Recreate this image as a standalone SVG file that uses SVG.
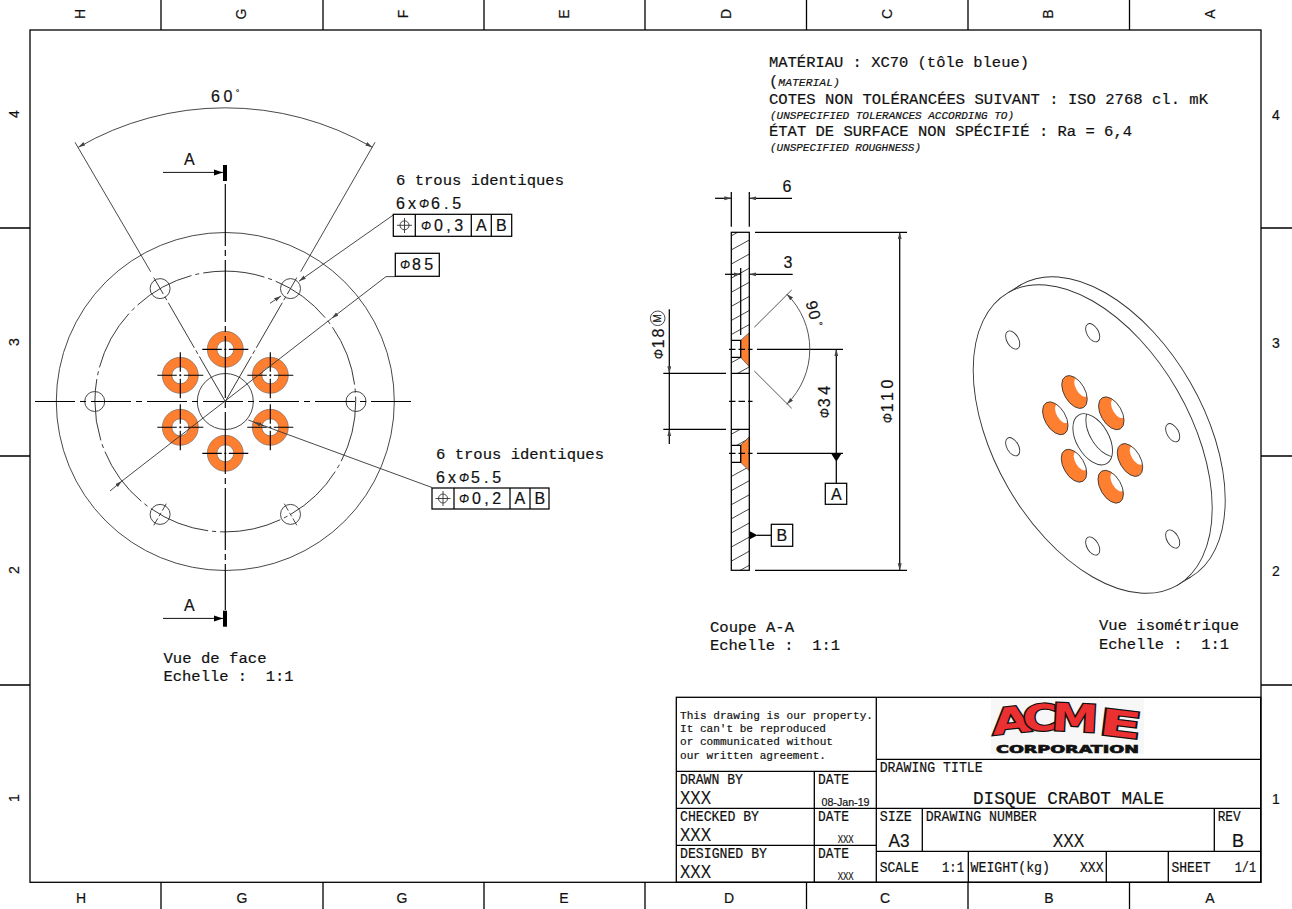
<svg xmlns="http://www.w3.org/2000/svg" xmlns:xlink="http://www.w3.org/1999/xlink" width="1292" height="909" viewBox="0 0 1292 909">
<style>
text{font-family:"Liberation Mono","DejaVu Sans Mono",monospace;fill:#111;stroke:#111;stroke-width:.2px;white-space:pre}
.m{font-size:15.5px}
.i{font-size:11px;font-style:italic}
.s{font-family:"Liberation Sans",Arial,sans-serif;font-size:16px}
.b{font-size:14.5px}
.n{font-size:11px}
.x{font-family:"Liberation Sans",Arial,sans-serif;font-size:18px}
.d{font-family:"Liberation Sans",Arial,sans-serif;font-size:10px}
.z{font-family:"Liberation Sans",Arial,sans-serif;font-size:14px}
.ph{font-family:"Liberation Sans",Arial,sans-serif;font-style:italic;font-size:12px}
.logo{font-family:"DejaVu Sans",sans-serif;font-weight:bold;font-size:36px;fill:#ea3030;stroke:#111;stroke-width:2.4px;paint-order:stroke}
.corp{font-family:"DejaVu Sans",sans-serif;font-weight:bold;font-size:11px;fill:#111;stroke:#111;stroke-width:.7px}
line,path,circle,ellipse,rect,polyline{fill:none;stroke:#111;stroke-width:1}
.k{stroke:#000;stroke-width:1.25}
.th{stroke:#333;stroke-width:.9}
.g{stroke:#444;stroke-width:.9}
.or{fill:#ff7f30;stroke:#555;stroke-width:.8}
.wh{fill:#fff;stroke:none}
.bk{fill:#000;stroke:none}
.ch{stroke:#000;stroke-width:1.15;stroke-dasharray:40 5 6 5}
.chx{stroke:#000;stroke-width:1.15;stroke-dasharray:19.5 2.5 2 2.5 19.5}
.chr{stroke:#333;stroke-width:.9;stroke-dasharray:8 2.5 4 2.5 8}
.pcd{stroke:#222;stroke-width:.9;stroke-dasharray:62 4 4 4}
.aa{marker-start:url(#a);marker-end:url(#a)}
.fr{stroke:#000;stroke-width:1.3}
</style>
<defs>
<marker id="a" markerUnits="userSpaceOnUse" markerWidth="8" markerHeight="5" refX="7" refY="2" orient="auto-start-reverse"><path d="M0,0 L7,2 L0,4 z" style="fill:#444;stroke:none"/></marker>
<marker id="b" markerUnits="userSpaceOnUse" markerWidth="10" markerHeight="7" refX="9" refY="3" orient="auto"><path d="M0,0 L9,3 L0,6 z" style="fill:#000;stroke:none"/></marker>
<g id="ring"><circle r="13.2" style="fill:none;stroke:#ff7f30;stroke-width:9.6"/><circle r="18" style="stroke:#666;stroke-width:.6"/><circle r="8.5" style="stroke:#666;stroke-width:.6"/></g>
<g id="crossAll"><line class="chx" x1="-23" y1="0" x2="23" y2="0"/><line class="chx" x1="0" y1="-23" x2="0" y2="23"/></g>
<clipPath id="sec"><path d="M731.3,232.3H749.3V332.7L740.7,340.3H731.3zM731.3,357.3H740.7L749.3,366.7V373.3H731.3zM731.3,429.3H749.3V436.7L740.7,445.3H731.3zM731.3,462.3H740.7L749.3,470.7V570.3H731.3z"/></clipPath>
<clipPath id="ic"><ellipse cx="0" cy="0" rx="18" ry="10.4" transform="rotate(60)"/></clipPath>
<clipPath id="bh"><ellipse cx="1092.7" cy="439.3" rx="28" ry="16.2" transform="rotate(60 1092.7 439.3)"/></clipPath>
<g id="iring"><ellipse class="or" rx="18" ry="10.4" transform="rotate(60)" style="stroke:none"/><g clip-path="url(#ic)"><ellipse class="wh" cx="6.7" cy="-4.7" rx="10.5" ry="5.3" transform="rotate(60 6.7 -4.7)"/></g><ellipse rx="18" ry="10.4" transform="rotate(60)" style="stroke:#333;stroke-width:.8"/></g>
<ellipse id="ih" rx="10" ry="5.8" transform="rotate(60)" class="th"/>
</defs>
<rect width="1292" height="909" style="fill:#fff;stroke:none"/>

<g id="frame">
<rect class="fr" x="30" y="30" width="1231" height="852.3"/>
<path class="fr" d="M161,0V30M323,0V30M484,0V30M645,0V30M806.5,0V30M968,0V30M1129.5,0V30M161,882V909M323,882V909M484,882V909M645,882V909M806.5,882V909M968,882V909M1129.5,882V909M0,228H30M0,456H30M0,685H30M1261,228H1292M1261,456H1292M1261,685H1292"/>
<g>
<text class="z" transform="rotate(-90 81 14)" x="81" y="14" text-anchor="middle" dominant-baseline="middle">H</text>
<text class="z" transform="rotate(-90 242 14)" x="242" y="14" text-anchor="middle" dominant-baseline="middle">G</text>
<text class="z" transform="rotate(-90 404 14)" x="404" y="14" text-anchor="middle" dominant-baseline="middle">F</text>
<text class="z" transform="rotate(-90 565 14)" x="565" y="14" text-anchor="middle" dominant-baseline="middle">E</text>
<text class="z" transform="rotate(-90 727 14)" x="727" y="14" text-anchor="middle" dominant-baseline="middle">D</text>
<text class="z" transform="rotate(-90 888 14)" x="888" y="14" text-anchor="middle" dominant-baseline="middle">C</text>
<text class="z" transform="rotate(-90 1049 14)" x="1049" y="14" text-anchor="middle" dominant-baseline="middle">B</text>
<text class="z" transform="rotate(-90 1211 14)" x="1211" y="14" text-anchor="middle" dominant-baseline="middle">A</text>
<text class="z" x="81" y="903" text-anchor="middle">H</text>
<text class="z" x="242" y="903" text-anchor="middle">G</text>
<text class="z" x="402" y="903" text-anchor="middle">G</text>
<text class="z" x="564" y="903" text-anchor="middle">E</text>
<text class="z" x="729" y="903" text-anchor="middle">D</text>
<text class="z" x="885" y="903" text-anchor="middle">C</text>
<text class="z" x="1049" y="903" text-anchor="middle">B</text>
<text class="z" x="1210" y="903" text-anchor="middle">A</text>
<text class="z" transform="rotate(-90 15 114)" x="15" y="114" text-anchor="middle" dominant-baseline="middle">4</text>
<text class="z" transform="rotate(-90 15 342)" x="15" y="342" text-anchor="middle" dominant-baseline="middle">3</text>
<text class="z" transform="rotate(-90 15 570)" x="15" y="570" text-anchor="middle" dominant-baseline="middle">2</text>
<text class="z" transform="rotate(-90 15 798)" x="15" y="798" text-anchor="middle" dominant-baseline="middle">1</text>
<text class="z" x="1276" y="120" text-anchor="middle">4</text>
<text class="z" x="1276" y="348" text-anchor="middle">3</text>
<text class="z" x="1276" y="576" text-anchor="middle">2</text>
<text class="z" x="1276" y="804" text-anchor="middle">1</text>
</g>
</g>

<g id="notes">
<text class="m" x="769" y="67" textLength="260" lengthAdjust="spacingAndGlyphs">MATÉRIAU : XC70 (tôle bleue)</text>
<text x="769" y="86"><tspan class="m">(</tspan><tspan class="i" style="font-size:11.4px">MATERIAL)</tspan></text>
<text class="m" x="769" y="104" textLength="439" lengthAdjust="spacingAndGlyphs">COTES NON TOLÉRANCÉES SUIVANT : ISO 2768 cl. mK</text>
<text class="i" x="770" y="119" textLength="244" lengthAdjust="spacingAndGlyphs">(UNSPECIFIED TOLERANCES ACCORDING TO)</text>
<text class="m" x="769" y="136" textLength="363" lengthAdjust="spacingAndGlyphs">ÉTAT DE SURFACE NON SPÉCIFIÉ : Ra = 6,4</text>
<text class="i" x="770" y="151" textLength="151" lengthAdjust="spacingAndGlyphs">(UNSPECIFIED ROUGHNESS)</text>
</g>

<g id="front-view">
<circle class="th" cx="225.3" cy="401.5" r="169"/>
<circle class="pcd" cx="225.3" cy="401.5" r="130.4"/>
<circle class="th" cx="225.3" cy="401.5" r="28"/>
<circle class="th" cx="94.7" cy="401.5" r="10"/>
<circle class="th" cx="356" cy="401.5" r="10"/>
<circle class="th" cx="160.1" cy="288.6" r="10"/>
<circle class="th" cx="290.5" cy="288.6" r="10"/>
<circle class="th" cx="160.1" cy="514.4" r="10"/>
<circle class="th" cx="290.5" cy="514.4" r="10"/>
<use href="#ring" x="225.3" y="349.3"/>
<use href="#ring" x="270.3" y="375.3"/>
<use href="#ring" x="180.3" y="375.3"/>
<use href="#ring" x="180.3" y="427.3"/>
<use href="#ring" x="270.3" y="427.3"/>
<use href="#ring" x="225.3" y="453.3"/>
<use href="#crossAll" x="270.3" y="375.3"/>
<use href="#crossAll" x="180.3" y="375.3"/>
<use href="#crossAll" x="180.3" y="427.3"/>
<use href="#crossAll" x="270.3" y="427.3"/>
<line class="chx" x1="202.3" y1="349.3" x2="248.3" y2="349.3"/>
<line class="chx" x1="202.3" y1="453.3" x2="248.3" y2="453.3"/>
<line class="ch" x1="35" y1="401.5" x2="416" y2="401.5"/>
<line class="ch" x1="225.3" y1="184" x2="225.3" y2="610" style="stroke-dasharray:62 4 6 4"/>
<line class="pcd" x1="225.3" y1="401.5" x2="153.8" y2="277.6" style="stroke-dasharray:52 3 4 3"/>
<line class="pcd" x1="225.3" y1="401.5" x2="296.8" y2="277.6" style="stroke-dasharray:52 3 4 3"/>
<line class="chr" x1="166.3" y1="503.7" x2="153.8" y2="525.3"/>
<line class="chr" x1="284.3" y1="503.7" x2="296.8" y2="525.3"/>
<text class="s" x="184" y="165">A</text>
<text class="s" x="184" y="611">A</text>
<rect class="bk" x="223" y="165" width="4" height="16"/>
<rect class="bk" x="223" y="610.7" width="4" height="16"/>
<text class="m" x="163.5" y="663" textLength="103" lengthAdjust="spacingAndGlyphs">Vue de face</text>
<text class="m" x="163.5" y="681" textLength="130" lengthAdjust="spacingAndGlyphs">Echelle :  1:1</text>
</g>

<g id="section-view">
<path class="or" d="M749.3,332.7L740.7,340.3V357.3L749.3,366.7z"/>
<path class="or" d="M749.3,436.7L740.7,445.3V462.3L749.3,470.7z"/>
<g clip-path="url(#sec)">
<path class="th" d="M731,236L750,225.5M731,250.1L750,239.6M731,264.2L750,253.7M731,278.3L750,267.8M731,292.4L750,281.9M731,306.5L750,296M731,320.6L750,310.1M731,334.7L750,324.2M731,362.9L750,352.4M731,377L750,366.5M731,434.4L750,423.9M731,448.5L750,438M731,476.7L750,466.2M731,490.8L750,480.3M731,504.9L750,494.4M731,519L750,508.5M731,533.1L750,522.6M731,547.2L750,536.7M731,561.3L750,550.8M731,575.4L750,564.9"/>
</g>
<rect class="k" x="731.3" y="232.3" width="18" height="338"/>
<path class="k" d="M731.3,373.3H749.3M731.3,429.3H749.3M731.3,340.3H740.7V357.3H731.3M731.3,445.3H740.7V462.3H731.3"/>
<path class="k" d="M729,401.3H735.5M738.5,401.3H745M748,401.3H752.5M729,349.3H735.5M738.5,349.3H745M748,349.3H752.5M729,453.3H735.5M738.5,453.3H745M748,453.3H752.5"/>
<text class="m" x="710" y="632" textLength="84" lengthAdjust="spacingAndGlyphs">Coupe A-A</text>
<text class="m" x="710" y="650" textLength="130" lengthAdjust="spacingAndGlyphs">Echelle :  1:1</text>
</g>

<g id="iso-view">
<ellipse class="th" cx="1105.7" cy="431" rx="169" ry="97.6" transform="rotate(60 1105.7 431)"/>
<ellipse cx="1092.7" cy="439" rx="169" ry="97.6" transform="rotate(60 1092.7 439)" style="fill:#fff;stroke:#333;stroke-width:.9"/>
<path class="th" d="M1008.2,292.6L1021.2,284.6M1177.2,585.4L1190.2,577.4"/>
<use href="#ih" x="1012.7" y="340"/>
<use href="#ih" x="1092.7" y="332.7"/>
<use href="#ih" x="1172.7" y="432.7"/>
<use href="#ih" x="1172.7" y="539"/>
<use href="#ih" x="1092.7" y="546"/>
<use href="#ih" x="1012.7" y="446.7"/>
<ellipse class="th" cx="1092.7" cy="439.3" rx="28" ry="16.2" transform="rotate(60 1092.7 439.3)"/>
<g clip-path="url(#bh)"><ellipse class="th" cx="1105.7" cy="431.3" rx="28" ry="16.2" transform="rotate(60 1105.7 431.3)"/></g>
<use href="#iring" x="1074.5" y="392"/>
<use href="#iring" x="1111.3" y="413.3"/>
<use href="#iring" x="1055.3" y="418.3"/>
<use href="#iring" x="1130" y="460"/>
<use href="#iring" x="1074" y="465.7"/>
<use href="#iring" x="1110.7" y="486.7"/>
<text class="m" x="1099" y="630" textLength="140" lengthAdjust="spacingAndGlyphs">Vue isométrique</text>
<text class="m" x="1099" y="649" textLength="130" lengthAdjust="spacingAndGlyphs">Echelle :  1:1</text>
</g>

<g id="connectors">
<path class="th" d="M75,142.3L150.7,271.7M375,142.3L300.7,271.7"/>
<path class="th aa" d="M78.3,147.3A293.5,293.5 0 0 1 372.3,147.3"/>
<line x1="163" y1="172.4" x2="223" y2="172.4" style="marker-end:url(#b)"/>
<line x1="163" y1="618.4" x2="223" y2="618.4" style="marker-end:url(#b)"/>
<path class="th" d="M393.3,215L299,281.2" style="marker-end:url(#a)"/>
<path class="th" d="M270,303.3L281,296" style="marker-end:url(#a)"/>
<path class="th" d="M395.3,276.6H386L331.7,318.3"  style="marker-end:url(#a)"/>
<path class="th" d="M331.7,318.3L122,481"/>
<path class="th" d="M110,491L122,481" style="marker-end:url(#a)"/>
<path class="th" d="M432,487.5L248.3,420"/>
<path class="th" d="M264,426L254,422.2" style="marker-end:url(#a)"/>
<path class="k" d="M731.3,192V226.7M749.3,192V226.7"/>
<path class="k" d="M715,198.3H731.3" style="marker-end:url(#a)"/>
<path class="k" d="M749.3,198.3H792" style="marker-start:url(#a)"/>
<path class="k" d="M725,274.3H740.7" style="marker-end:url(#a)"/>
<path class="k" d="M749.3,274.3H792.7" style="marker-start:url(#a)"/>
<line class="k" x1="740.7" y1="268" x2="740.7" y2="335"/>
<path class="k" d="M755,232.3H907M755,570.3H907"/>
<line class="k aa" x1="899.7" y1="232.3" x2="899.7" y2="570.3"/>
<path class="k" d="M757,349.3H843M757,453.3H843"/>
<path class="k" d="M836.3,453.3V349.3" style="marker-end:url(#a)"/>
<path class="bk" d="M831,453.3H841.7L836.3,461.7z"/>
<line class="k" x1="836.3" y1="461" x2="836.3" y2="483.3"/>
<path class="k" d="M663.3,373.3H726M663.3,429.3H726"/>
<path class="k" d="M669.3,309.3V373.3" style="marker-end:url(#a)"/>
<path class="k" d="M669.3,444V429.3" style="marker-end:url(#a)"/>
<line class="k" x1="669.3" y1="373.3" x2="669.3" y2="429.3"/>
<path class="g" d="M754.3,327.3L791.7,290M754.3,371L791.7,408.3"/>
<path class="g aa" d="M786.7,294A77.4,77.4 0 0 1 786.7,404.3"/>
<path class="bk" d="M749.3,531V539.5L757.5,535.3z"/>
<line class="k" x1="757" y1="535.3" x2="771.3" y2="535.3"/>
</g>

<g id="dim-labels">
<text class="s" x="211" y="102" letter-spacing="3.5">60<tspan class="d" dy="-6" style="font-size:9px">°</tspan></text>
<text class="m" x="396" y="185" textLength="168" lengthAdjust="spacingAndGlyphs">6 trous identiques</text>
<text class="s" x="396" y="209">6</text>
<text class="s" x="408" y="209">x</text>
<text class="ph" x="419" y="208">Φ</text>
<text class="s" x="431" y="209" letter-spacing="4">6.5</text>
<text class="m" x="436" y="459" textLength="168" lengthAdjust="spacingAndGlyphs">6 trous identiques</text>
<text class="s" x="436" y="483">6</text>
<text class="s" x="448" y="483">x</text>
<text class="ph" x="459" y="482">Φ</text>
<text class="s" x="471" y="483" letter-spacing="4">5.5</text>
<text class="s" x="782.5" y="192">6</text>
<text class="s" x="783.5" y="268">3</text>
<g transform="translate(893.3 423.3) rotate(-90)"><text class="ph" x="0" y="-1">Φ</text><text class="s" x="11" y="0" letter-spacing="3.6">110</text></g>
<g transform="translate(830 418.3) rotate(-90)"><text class="ph" x="0" y="-1">Φ</text><text class="s" x="11" y="0" letter-spacing="3.6">34</text></g>
<g transform="translate(664 359.3) rotate(-90)"><text class="ph" x="0" y="-1">Φ</text><text class="s" x="11" y="0" letter-spacing="2">18</text></g>
<circle class="th" cx="657.7" cy="318.3" r="7.3"/>
<text class="d" transform="translate(661.3 318.3) rotate(-90)" x="0" y="0" text-anchor="middle">M</text>
<text class="s" transform="translate(805.5 302.5) rotate(75)" x="0" y="0" letter-spacing="1">90</text>
<text class="d" transform="translate(815 323) rotate(75)" x="0" y="0">°</text>
</g>

<g id="fcf-1">
<rect class="k" x="393.3" y="214.3" width="118.4" height="22"/>
<path class="k" d="M415.3,214.3V236.3M471.3,214.3V236.3M491.3,214.3V236.3"/>
<circle class="th" cx="404.5" cy="225.3" r="4.5"/>
<path class="th" d="M397,225.3H412M404.5,218V233"/>
<text class="ph" x="421" y="230">Φ</text>
<text class="s" x="434" y="231" letter-spacing="3.4">0,3</text>
<text class="s" x="476" y="231">A</text>
<text class="s" x="496" y="231">B</text>
</g>
<g id="fcf-2">
<rect class="k" x="432" y="488" width="117" height="21"/>
<path class="k" d="M454,488V509M510,488V509M530,488V509"/>
<circle class="th" cx="443" cy="498.5" r="4.5"/>
<path class="th" d="M435.5,498.5H450.5M443,491V506"/>
<text class="ph" x="459" y="503">Φ</text>
<text class="s" x="472" y="504" letter-spacing="3.4">0,2</text>
<text class="s" x="514.5" y="504">A</text>
<text class="s" x="534.5" y="504">B</text>
</g>
<g id="dim-85">
<rect class="k" x="395.3" y="253.3" width="44" height="23"/>
<text class="ph" x="400" y="269">Φ</text>
<text class="s" x="412" y="270" letter-spacing="3.4">85</text>
</g>
<g id="datum-a">
<rect class="k" x="825.3" y="483.3" width="21.4" height="21"/>
<text class="s" x="831" y="499.5">A</text>
</g>
<g id="datum-b">
<rect class="k" x="771.3" y="524.3" width="21.4" height="22"/>
<text class="s" x="776.5" y="541">B</text>
</g>

<g id="title-block">
<rect class="fr" x="676.3" y="697.3" width="584.4" height="185"/>
<path class="fr" d="M876.3,697.3V882.3M676.3,771.3H876.3M676.3,808.3H1260.7M676.3,845.3H876.3M814.3,771.3V882.3M876.3,759.3H1260.7M922.3,808.3V851.3M876.3,851.3H1260.7M968.3,851.3V882.3M1214.3,808.3V851.3M1106.3,851.3V882.3M1168.3,851.3V882.3"/>
<g id="logo">
<rect style="fill:#f7f7f7;stroke:none" x="991" y="698.5" width="153" height="55.5"/>
<text class="logo" transform="translate(993 735) rotate(-6) scale(1.4 1)">A</text>
<text class="logo" transform="translate(1023 731) rotate(-2) scale(1.32 1)">C</text>
<text class="logo" transform="translate(1051 730) rotate(3) scale(1.3 1.05)">M</text>
<text class="logo" transform="translate(1098 734) rotate(7) scale(1.72 1)">E</text>
<text class="corp" x="996" y="753" textLength="143" lengthAdjust="spacingAndGlyphs">CORPORATION</text>
</g>
<text class="n" x="680" y="719.3" textLength="193" lengthAdjust="spacingAndGlyphs">This drawing is our property.</text>
<text class="n" x="680" y="732" textLength="146" lengthAdjust="spacingAndGlyphs">It can't be reproduced</text>
<text class="n" x="680" y="745" textLength="153" lengthAdjust="spacingAndGlyphs">or communicated without</text>
<text class="n" x="680" y="759" textLength="146" lengthAdjust="spacingAndGlyphs">our written agreement.</text>
<text class="b" x="680" y="784.3" textLength="63" lengthAdjust="spacingAndGlyphs">DRAWN BY</text>
<text class="x" x="680" y="804.3" textLength="31" lengthAdjust="spacingAndGlyphs">XXX</text>
<text class="b" x="818" y="784.3" textLength="31" lengthAdjust="spacingAndGlyphs">DATE</text>
<text class="d" x="821.5" y="805.7" textLength="48" lengthAdjust="spacingAndGlyphs">08-Jan-19</text>
<text class="b" x="680" y="821.3" textLength="79" lengthAdjust="spacingAndGlyphs">CHECKED BY</text>
<text class="x" x="680" y="841.3" textLength="31" lengthAdjust="spacingAndGlyphs">XXX</text>
<text class="b" x="818" y="821.3" textLength="31" lengthAdjust="spacingAndGlyphs">DATE</text>
<text class="d" x="837.7" y="842.7" textLength="16" lengthAdjust="spacingAndGlyphs">XXX</text>
<text class="b" x="680" y="858.3" textLength="87" lengthAdjust="spacingAndGlyphs">DESIGNED BY</text>
<text class="x" x="680" y="878.3" textLength="31" lengthAdjust="spacingAndGlyphs">XXX</text>
<text class="b" x="818" y="858.3" textLength="31" lengthAdjust="spacingAndGlyphs">DATE</text>
<text class="d" x="837.7" y="879.7" textLength="16" lengthAdjust="spacingAndGlyphs">XXX</text>
<text class="b" x="879.7" y="772" textLength="103" lengthAdjust="spacingAndGlyphs">DRAWING TITLE</text>
<text class="x" x="973" y="804" textLength="191" lengthAdjust="spacingAndGlyphs" style="font-family:'Liberation Mono',monospace;font-size:19px">DISQUE CRABOT MALE</text>
<text class="b" x="879.7" y="821.3" textLength="32" lengthAdjust="spacingAndGlyphs">SIZE</text>
<text class="x" x="888.5" y="847.3" textLength="21" lengthAdjust="spacingAndGlyphs">A3</text>
<text class="b" x="925.7" y="821.3" textLength="111" lengthAdjust="spacingAndGlyphs">DRAWING NUMBER</text>
<text class="x" x="1052.7" y="847.3" textLength="31.5" lengthAdjust="spacingAndGlyphs">XXX</text>
<text class="b" x="1217.7" y="821.3" textLength="23" lengthAdjust="spacingAndGlyphs">REV</text>
<text class="x" x="1232" y="847.3">B</text>
<text class="b" x="879.7" y="871.7" textLength="39" lengthAdjust="spacingAndGlyphs">SCALE</text>
<text class="b" x="942" y="871.7" textLength="22" lengthAdjust="spacingAndGlyphs">1:1</text>
<text class="b" x="970.5" y="871.7" textLength="79.5" lengthAdjust="spacingAndGlyphs">WEIGHT(kg)</text>
<text class="b" x="1080" y="871.7" textLength="23.5" lengthAdjust="spacingAndGlyphs">XXX</text>
<text class="b" x="1171.5" y="871.7" textLength="39" lengthAdjust="spacingAndGlyphs">SHEET</text>
<text class="b" x="1234.7" y="871.7" textLength="21.5" lengthAdjust="spacingAndGlyphs">1/1</text>
</g>
</svg>
